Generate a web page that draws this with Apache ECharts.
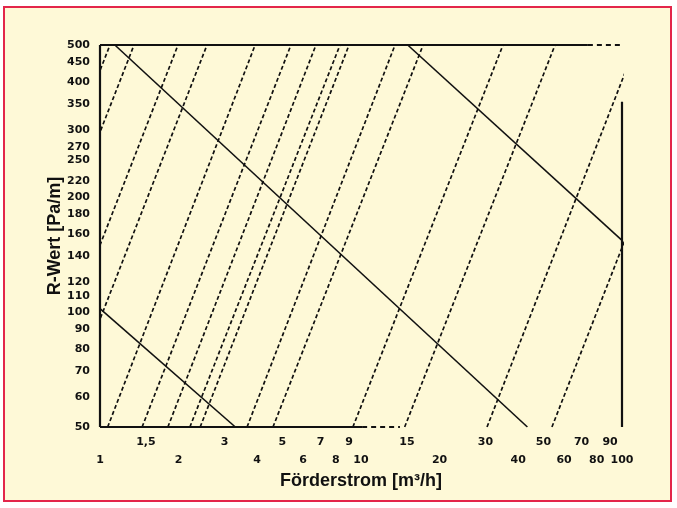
<!DOCTYPE html>
<html><head><meta charset="utf-8">
<script src="https://cdn.jsdelivr.net/npm/echarts@6/dist/echarts.min.js"></script>
<style>html,body{margin:0;padding:0;background:#fff;}#c{width:677px;height:508px;}</style>
</head><body><div id="c"></div>
<script>
// R-Wert tick labels (Pa/m)
const rTicks = [50,60,70,80,90,100,110,120,140,160,180,200,220,250,270,300,350,400,450,500];
// Förderstrom tick labels (m³/h), two rows
const qTicksUpper = [1.5,3,5,7,9,15,30,50,70,90];
const qLabelsUpper = ['1,5','3','5','7','9','15','30','50','70','90'];
const qTicksLower = [1,2,4,6,8,10,20,40,60,80,100];
const qLabelsLower = ['1','2','4','6','8','10','20','40','60','80','100'];
// dashed diameter lines: Förderstrom at R = 50 and at R = 500
const diaR = [50, 500];
const diaQ50  = [0.293,0.362,0.535,0.69,1.07,1.45,1.82,2.21,2.42,3.66,4.60,9.31,14.7,30.4,53.9];
const diaQ500 = [1.092,1.35,1.99,2.57,3.93,5.39,6.72,8.31,9.0,13.5,17.3,35.0,55.4,113,201];
// solid velocity lines: start (Q,R) and end (Q,R)
const velQa = [1, 1.14, 15.1];
const velRa = [102, 500, 500];
const velQb = [3.3, 43.4, 100];
const velRb = [50, 50, 154];
// frame pieces (data units)
const frameQmin = 1, frameQmax = 100, frameRmin = 50, frameRmax = 500;
const frameTopSolidEnd = 74;
const frameBottomSolidEnd = 10.1, frameBottomDashEnd = 14.1;
const frameRightTopR = 355;

const ink = '#111';
const fontFam = '"Liberation Sans", Arial, sans-serif';
function lbl(ticks, labels){ return v => { let b=0,d=1e9; ticks.forEach((t,i)=>{const e=Math.abs(Math.log(t)-Math.log(v)); if(e<d){d=e;b=i;}}); return labels[b]; }; }

const series = [];
diaQ50.forEach((q, i) => {
  series.push({type:'line', data:[[q, diaR[0]], [diaQ500[i], diaR[1]]], symbol:'none', silent:true, clip:true,
    lineStyle:{color:ink, width:1.7, type:[4,2.5]}});
});
velQa.forEach((q, i) => {
  series.push({type:'line', data:[[q, velRa[i]], [velQb[i], velRb[i]]], symbol:'none', silent:true, clip:true,
    lineStyle:{color:ink, width:1.6}});
});
function seg(d, dashed){ series.push({type:'line', data:d, symbol:'none', silent:true, clip:false,
    lineStyle:{color:ink, width:2.2, type: dashed ? [5,4] : 'solid'}}); }
seg([[frameQmin,frameRmin],[frameQmin,frameRmax]], false);
seg([[frameQmin,frameRmax],[frameTopSolidEnd,frameRmax]], false);
seg([[frameTopSolidEnd,frameRmax],[frameQmax,frameRmax]], true);
seg([[frameQmin,frameRmin],[frameBottomSolidEnd,frameRmin]], false);
seg([[frameBottomSolidEnd,frameRmin],[frameBottomDashEnd,frameRmin]], true);
seg([[frameQmax,frameRmin],[frameQmax,frameRightTopR]], false);

const labelStyle = {color:ink, fontSize:11, fontWeight:'bold', fontFamily:'"DejaVu Sans", sans-serif'};
const chart = echarts.init(document.getElementById('c'), null, {renderer:'canvas'});
chart.setOption({
  animation:false,
  backgroundColor:'#ffffff',
  graphic:[{type:'rect', z:-10, silent:true, shape:{x:4, y:7, width:667, height:494},
    style:{fill:'#FEF9D7', stroke:'#E3264A', lineWidth:2}}],
  grid:{left:100, right:55, top:45, bottom:81, containLabel:false},
  xAxis:[
    {type:'log', logBase:10, min:1, max:100, position:'bottom',
     axisLine:{show:false}, axisTick:{show:false}, splitLine:{show:false}, minorTick:{show:false},
     axisLabel:Object.assign({customValues:qTicksUpper, formatter:lbl(qTicksUpper,qLabelsUpper), margin:10, hideOverlap:false}, labelStyle),
     name:'Förderstrom [m³/h]', nameLocation:'middle', nameGap:45, nameMoveOverlap:false,
     nameTextStyle:{color:ink, fontSize:18, fontWeight:'bold', fontFamily:fontFam}},
    {type:'log', logBase:10, min:1, max:100, position:'bottom', offset:18,
     axisLine:{show:false}, axisTick:{show:false}, splitLine:{show:false}, minorTick:{show:false},
     axisLabel:Object.assign({customValues:qTicksLower, formatter:lbl(qTicksLower,qLabelsLower), margin:10, hideOverlap:false}, labelStyle)}
  ],
  yAxis:{type:'log', logBase:10, min:50, max:500,
     axisLine:{show:false}, axisTick:{show:false}, splitLine:{show:false}, minorTick:{show:false},
     axisLabel:Object.assign({customValues:rTicks, formatter:lbl(rTicks, rTicks.map(String)), margin:10, hideOverlap:false}, labelStyle),
     name:'R-Wert [Pa/m]', nameLocation:'middle', nameGap:36, nameRotate:90, nameMoveOverlap:false,
     nameTextStyle:{color:ink, fontSize:18, fontWeight:'bold', fontFamily:fontFam}},
  series:series
});
</script></body></html>
